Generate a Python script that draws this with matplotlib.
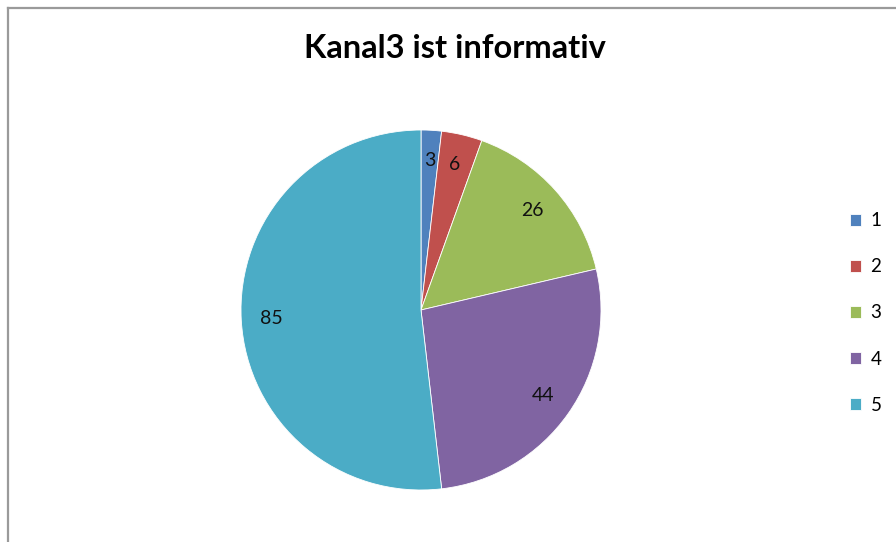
import matplotlib.pyplot as plt
from matplotlib.lines import Line2D

# data
categories = ["1", "2", "3", "4", "5"]
values = [3, 6, 26, 44, 85]
colors = ["#4F81BD", "#C0504D", "#9BBB59", "#8064A2", "#4BACC6"]
title = "Kanal3 ist informativ"

total = sum(values)

fig = plt.figure(figsize=(8.96, 5.42), dpi=100)

# pie axes: centre ~ (421, 310) px, radius ~180 px
W, H = 896, 542
ax = fig.add_axes([241 / W, 52 / H, 360 / W, 360 / H])
wedges, texts, autotexts = ax.pie(
    values, colors=colors, startangle=90, counterclock=False, radius=1,
    autopct=lambda p: f"{p * total / 100:.0f}", pctdistance=0.83,
    wedgeprops=dict(edgecolor="white", linewidth=0.6),
    textprops=dict(fontsize=14, color="#111111", family="Lato"))
ax.set_xlim(-1, 1)
ax.set_ylim(-1, 1)

fig.text(455 / W, 1 - 49 / H, title, ha="center", va="center",
         fontsize=23.5, fontweight="bold", family="Lato")

fig.legend(wedges, categories, loc="center left",
           bbox_to_anchor=(833 / W, 1 - 313 / H), frameon=False,
           prop=dict(family="Lato", size=13.5), handlelength=0.6,
           handleheight=0.6, handletextpad=0.5, labelspacing=1.55)

# chart area border (top and left visible)
fig.add_artist(Line2D([8 / W, 8 / W], [0, 1 - 8 / H], transform=fig.transFigure,
                      color="#9a9a9a", lw=1.6))
fig.add_artist(Line2D([8 / W, 1], [1 - 8 / H, 1 - 8 / H], transform=fig.transFigure,
                      color="#9a9a9a", lw=1.6))

fig.savefig("out.png", dpi=100)
